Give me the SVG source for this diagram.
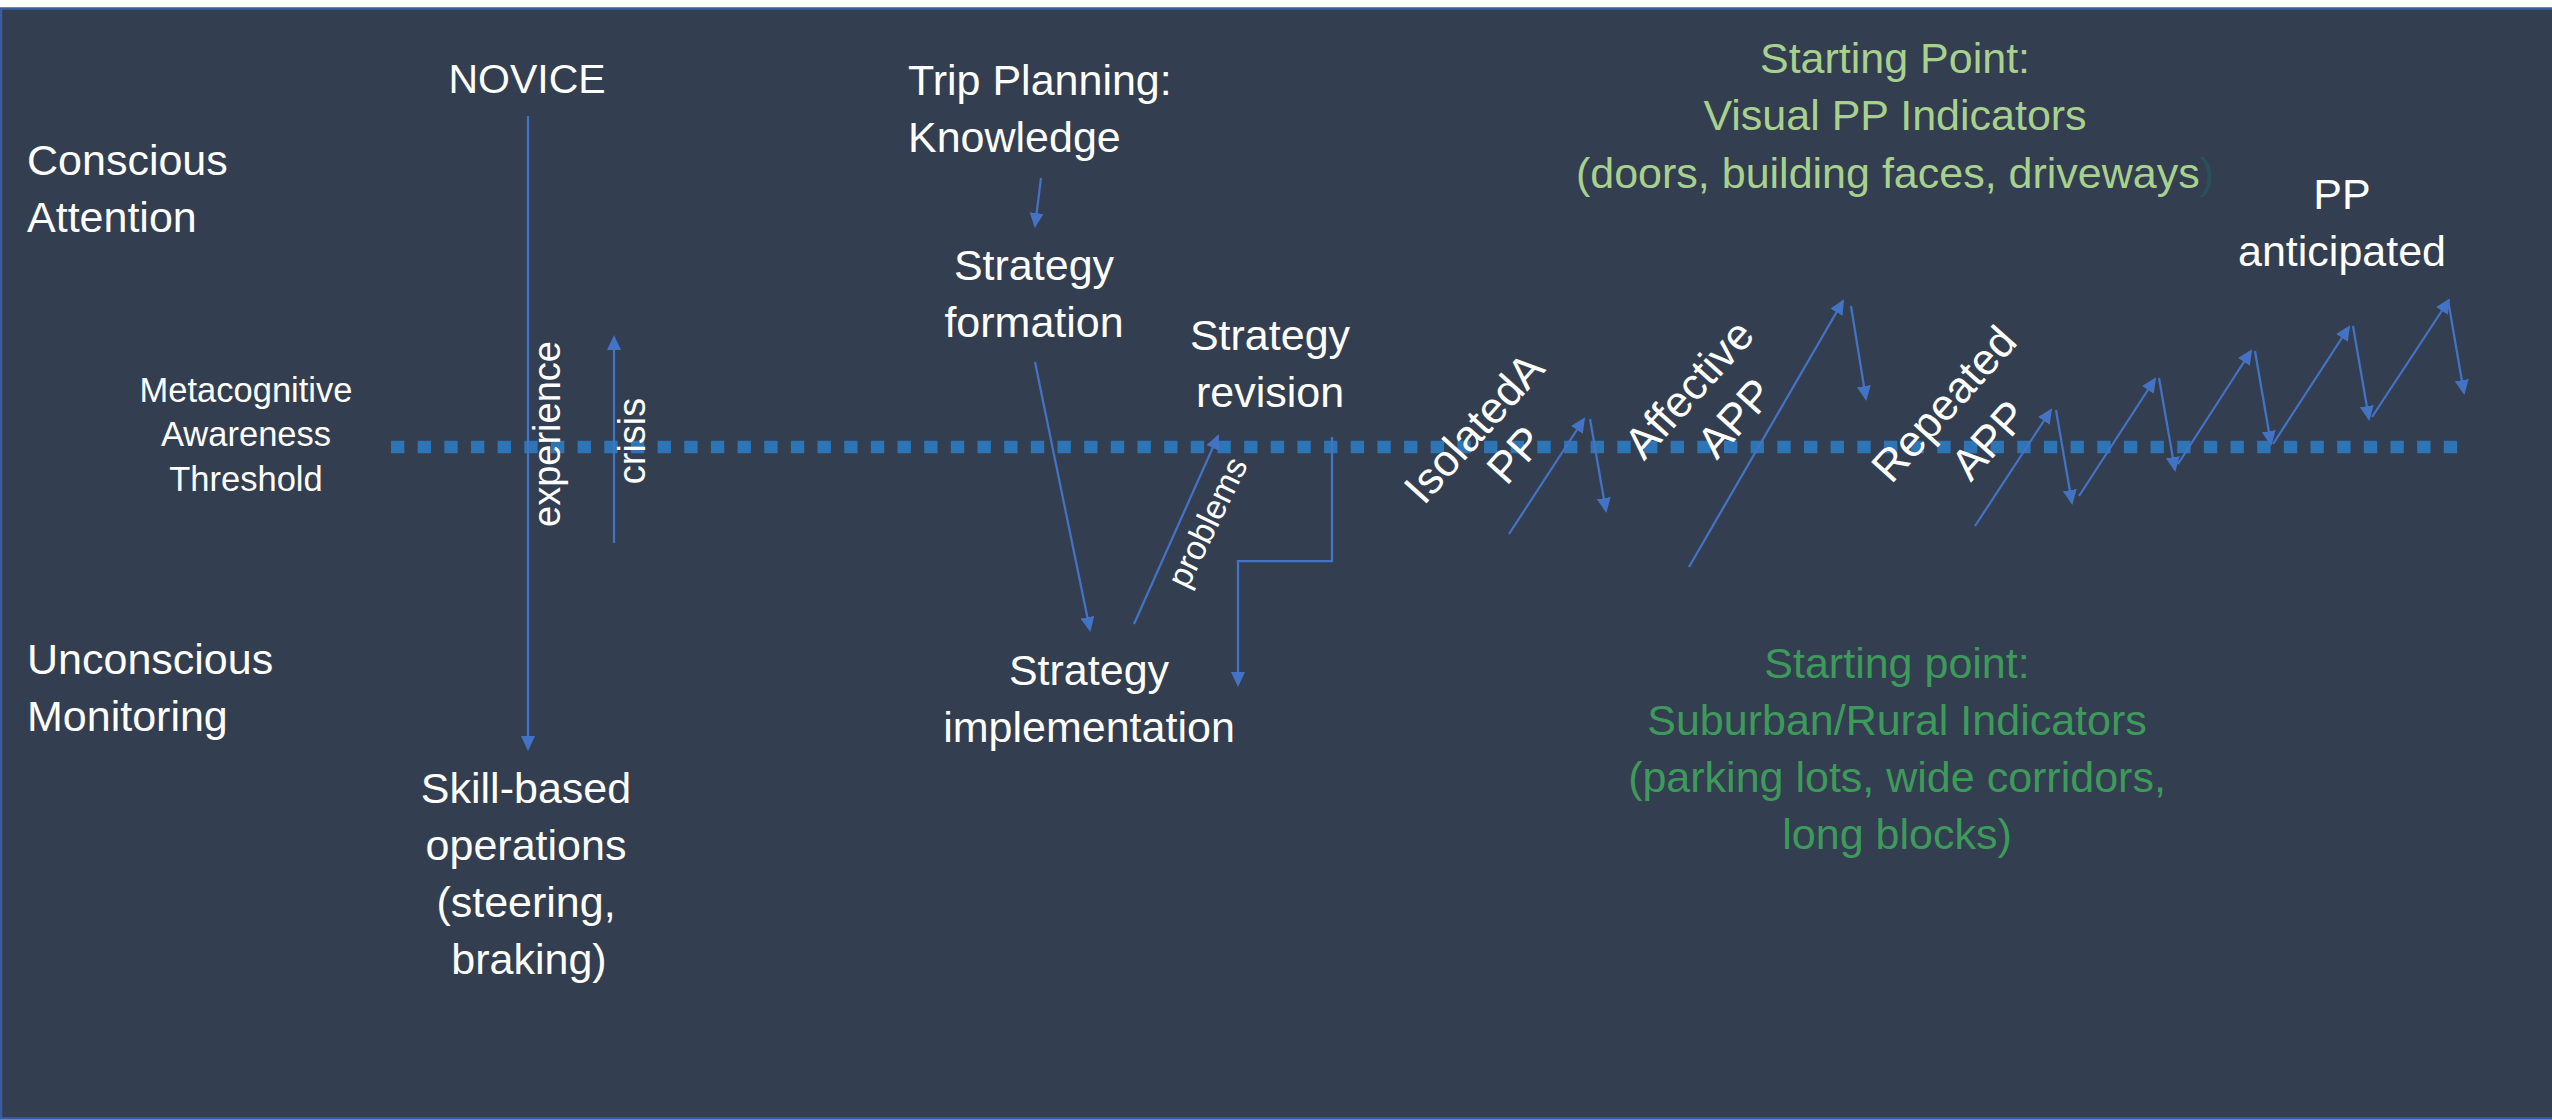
<svg xmlns="http://www.w3.org/2000/svg" width="2552" height="1120" viewBox="0 0 2552 1120">
  <defs>
    <style>
      .t { font-family: "Liberation Sans", Arial, sans-serif; fill: #FFFFFF; font-size: 43px; }
      .m { text-anchor: middle; }
      .small { font-size: 34.5px; }
      .side { font-size: 38px; }
      .lab { font-size: 44px; }
      .g1 { fill: #A9D18E; }
      .g2 { fill: #3D9A5B; }
      .c { fill: none; stroke: #4472C4; stroke-width: 2.25; marker-end: url(#ah); }
    </style>
    <marker id="ah" markerUnits="userSpaceOnUse" viewBox="0 0 15 14" markerWidth="15" markerHeight="14" refX="13" refY="7" orient="auto">
      <path d="M0,0 L15,7 L0,14 Z" fill="#4472C4"/>
    </marker>
  </defs>

  <!-- page and slide area -->
  <rect width="2552" height="1120" fill="#FFFFFF"/>
  <rect x="1" y="8.5" width="2600" height="1110" fill="#333F50" stroke="#3B5DA0" stroke-width="2.5"/>

  <!-- metacognitive awareness threshold (square-dot line) -->
  <line id="threshold" x1="391" y1="447" x2="2458" y2="447" stroke="#2E75B6" stroke-width="12.5" stroke-dasharray="13.33 13.33"/>

  <!-- connectors -->
  <g id="connectors">
    <path class="c" d="M528,116 V749"/>
    <path class="c" d="M614,543 V337"/>
    <path class="c" d="M1041,178 L1035,226"/>
    <path class="c" d="M1035,362 L1090,630"/>
    <path class="c" d="M1134,624 L1218,436"/>
    <path class="c" d="M1332,437 V561 H1238 V685"/>
    <!-- isolated APP -->
    <path class="c" d="M1509,534 L1584,419"/>
    <path class="c" d="M1590,419 L1606,511"/>
    <!-- affective APP -->
    <path class="c" d="M1689,567 L1843,301"/>
    <path class="c" d="M1851,306 L1866,399"/>
    <!-- repeated APP zigzag -->
    <path class="c" d="M1975,526 L2051,410"/>
    <path class="c" d="M2056,410 L2072,503"/>
    <path class="c" d="M2079,496 L2155,379"/>
    <path class="c" d="M2159,378 L2175,470"/>
    <path class="c" d="M2178,464 L2251,351"/>
    <path class="c" d="M2255,351 L2271,444"/>
    <path class="c" d="M2273,444 L2349,327"/>
    <path class="c" d="M2353,326 L2369,419"/>
    <path class="c" d="M2372,417 L2449,300"/>
    <path class="c" d="M2448,300 L2464,393"/>
  </g>

  <!-- labels -->
  <g id="conscious-attention">
    <text class="t" x="27" y="175">Conscious</text>
    <text class="t" x="27" y="232">Attention</text>
  </g>
  <g id="unconscious-monitoring">
    <text class="t" x="27" y="674">Unconscious</text>
    <text class="t" x="27" y="731">Monitoring</text>
  </g>
  <g id="threshold-label">
    <text class="t m small" x="246" y="402">Metacognitive</text>
    <text class="t m small" x="246" y="446">Awareness</text>
    <text class="t m small" x="246" y="491">Threshold</text>
  </g>
  <g id="novice">
    <text class="t m" x="527" y="93" style="font-size:41px">NOVICE</text>
  </g>
  <g id="experience">
    <text class="t m side" transform="translate(560,434) rotate(-90)">experience</text>
  </g>
  <g id="crisis">
    <text class="t m side" transform="translate(645,441) rotate(-90)">crisis</text>
  </g>
  <g id="skill-based">
    <text class="t m" x="526" y="803">Skill-based</text>
    <text class="t m" x="526" y="860">operations</text>
    <text class="t m" x="526" y="917">(steering,</text>
    <text class="t m" x="529" y="974">braking)</text>
  </g>
  <g id="trip-planning">
    <text class="t" x="908" y="95">Trip Planning:</text>
    <text class="t" x="908" y="152">Knowledge</text>
  </g>
  <g id="strategy-formation">
    <text class="t m" x="1034" y="280">Strategy</text>
    <text class="t m" x="1034" y="337">formation</text>
  </g>
  <g id="strategy-implementation">
    <text class="t m" x="1089" y="685">Strategy</text>
    <text class="t m" x="1089" y="742">implementation</text>
  </g>
  <g id="strategy-revision">
    <text class="t m" x="1270" y="350">Strategy</text>
    <text class="t m" x="1270" y="407">revision</text>
  </g>
  <g id="problems">
    <text class="t m" style="font-size:34px" transform="translate(1207,522) rotate(-64)" y="12">problems</text>
  </g>
  <g id="isolated-app">
    <text class="t m lab" transform="translate(1474,428) rotate(-48)" y="15">IsolatedA</text>
    <text class="t m lab" transform="translate(1515,455) rotate(-48)" y="15">PP</text>
  </g>
  <g id="affective-app">
    <text class="t m lab" transform="translate(1689,389) rotate(-48)" y="15">Affective</text>
    <text class="t m lab" transform="translate(1735,418) rotate(-48)" y="15">APP</text>
  </g>
  <g id="repeated-app">
    <text class="t m lab" transform="translate(1944,404) rotate(-48)" y="15">Repeated</text>
    <text class="t m lab" transform="translate(1989,440) rotate(-48)" y="15">APP</text>
  </g>
  <g id="visual-indicators">
    <text class="t m g1" x="1895" y="73">Starting Point:</text>
    <text class="t m g1" x="1895" y="130">Visual PP Indicators</text>
    <text class="t m g1" x="1895" y="188">(doors, building faces, driveways<tspan fill="#2A4F5E">)</tspan></text>
  </g>
  <g id="pp-anticipated">
    <text class="t m" x="2342" y="209">PP</text>
    <text class="t m" x="2342" y="266">anticipated</text>
  </g>
  <g id="suburban-indicators">
    <text class="t m g2" x="1897" y="678">Starting point:</text>
    <text class="t m g2" x="1897" y="735">Suburban/Rural Indicators</text>
    <text class="t m g2" x="1897" y="792">(parking lots, wide corridors,</text>
    <text class="t m g2" x="1897" y="849">long blocks)</text>
  </g>
</svg>
